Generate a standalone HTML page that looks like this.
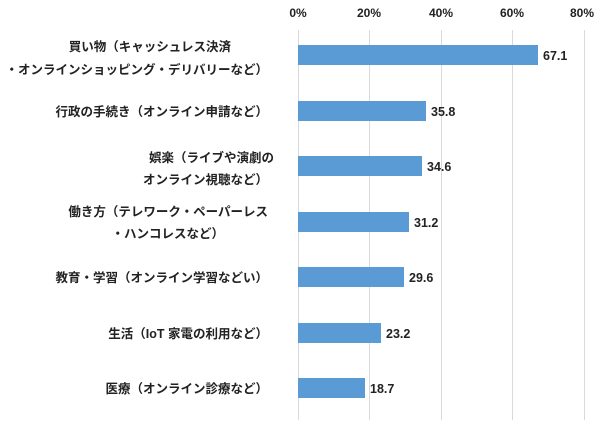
<!DOCTYPE html>
<html><head><meta charset="utf-8"><style>
body{margin:0;background:#fff;}
svg text{font-family:"Liberation Sans","Noto Sans CJK JP",sans-serif;font-size:12px;fill:#222;}
svg .lab text{font-size:12.5px;}
</style></head><body>
<svg width="600" height="429" xmlns="http://www.w3.org/2000/svg">
<rect width="600" height="429" fill="#fff"/>
<g stroke="#d9d9d9" stroke-width="1">
<line x1="298.5" y1="30" x2="298.5" y2="420"/>
<line x1="369.5" y1="30" x2="369.5" y2="420"/>
<line x1="441.5" y1="30" x2="441.5" y2="420"/>
<line x1="512.5" y1="30" x2="512.5" y2="420"/>
<line x1="584.5" y1="30" x2="584.5" y2="420"/>
</g>
<g text-anchor="middle" font-weight="bold">
<text x="298" y="17">0%</text><text x="369" y="17">20%</text><text x="441" y="17">40%</text><text x="512" y="17">60%</text><text x="582" y="17">80%</text>
</g>
<g fill="#5b9bd5">
<rect x="298" y="45" width="240" height="20"/>
<rect x="298" y="101" width="128" height="20"/>
<rect x="298" y="156" width="124" height="20"/>
<rect x="298" y="212" width="111" height="20"/>
<rect x="298" y="267" width="106" height="20"/>
<rect x="298" y="323" width="83" height="20"/>
<rect x="298" y="378" width="67" height="20"/>
</g>
<g font-weight="bold" class="lab">
<text x="543" y="60">67.1</text>
<text x="431" y="116">35.8</text>
<text x="427" y="171">34.6</text>
<text x="414" y="227">31.2</text>
<text x="409" y="282">29.6</text>
<text x="386" y="338">23.2</text>
<text x="370" y="393">18.7</text>
</g>
<g text-anchor="end" font-weight="bold" class="lab">
<text x="231" y="51">買い物（キャッシュレス決済</text>
<text x="268" y="74">・オンラインショッピング・デリバリーなど）</text>
<text x="268" y="116">行政の手続き（オンライン申請など）</text>
<text x="274" y="162">娯楽（ライブや演劇の</text>
<text x="268" y="184">オンライン視聴など）</text>
<text x="268" y="216">働き方（テレワーク・ペーパーレス</text>
<text x="224" y="238">・ハンコレスなど）</text>
<text x="268" y="282">教育・学習（オンライン学習などい）</text>
<text x="268" y="338">生活（IoT 家電の利用など）</text>
<text x="268" y="393">医療（オンライン診療など）</text>
</g>
</svg>
</body></html>
